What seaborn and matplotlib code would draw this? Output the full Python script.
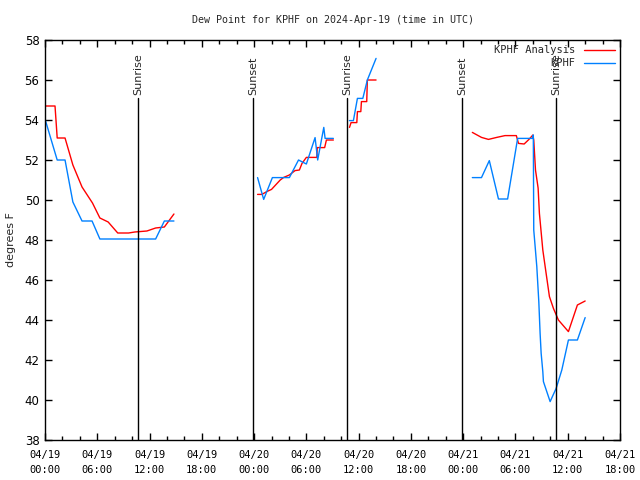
import matplotlib
matplotlib.use('Agg')
import matplotlib.pyplot as plt
import matplotlib.dates as mdates
from matplotlib.lines import Line2D
import seaborn as sns
import pandas as pd

# hours after 2024-04-19 00:00 UTC, one list per unbroken stretch
ana_hours = [
    [0, 1.15, 1.4, 2.3, 3.2, 4.25, 5.45, 6.3, 7.25, 8.35, 9.6, 10.3, 11.7, 12.7, 13.7, 14.8],
    [24.4, 24.9, 25.45, 26.0, 27.0, 27.4, 28.05, 28.7, 29.2, 29.5, 30.0, 31.2, 31.25, 32.1, 32.3, 33.1],
    [34.95, 35.13, 35.79, 35.86, 36.25, 36.32, 36.93, 37.0, 38.0],
    [49.05, 50.1, 50.9, 51.85, 52.8, 54.1, 54.35, 55.0, 55.55, 56.0, 56.1, 56.3, 56.6, 56.75,
     57.14, 57.52, 57.9, 58.36, 58.93, 60.08, 61.11, 62.0],
]
ana_dewp = [
    [54.7, 54.7, 53.1, 53.1, 51.75, 50.65, 49.85, 49.1, 48.9, 48.35, 48.35, 48.4, 48.45, 48.6, 48.65, 49.3],
    [50.28, 50.28, 50.42, 50.53, 51.0, 51.13, 51.25, 51.47, 51.5, 51.83, 52.13, 52.13, 52.62, 52.62, 53.0, 53.0],
    [53.63, 53.87, 53.87, 54.42, 54.42, 54.92, 54.92, 56.0, 56.0],
    [53.38, 53.13, 53.03, 53.13, 53.22, 53.22, 52.83, 52.8, 53.03, 53.25, 53.0, 51.5, 50.6, 49.33,
     47.5, 46.33, 45.17, 44.58, 44.0, 43.42, 44.75, 44.95],
]
obs_hours = [
    [0, 1.4, 2.3, 3.2, 4.25, 5.4, 6.3, 12.7, 13.7, 14.8],
    [24.4, 25.1, 26.1, 28.05, 29.1, 30.0, 31.0, 31.3, 32.0, 32.15, 33.1],
    [34.94, 35.4, 35.86, 36.48, 37.0, 38.0],
    [49.05, 50.1, 51.0, 52.05, 53.1, 54.25, 55.95, 56.05, 56.1, 56.26, 56.45, 56.68, 56.83, 56.95,
     57.14, 57.21, 57.98, 58.67, 59.32, 60.08, 61.11, 62.0],
]
obs_dewp = [
    [54.05, 52.0, 52.0, 49.9, 48.95, 48.95, 48.05, 48.05, 48.95, 48.95],
    [51.12, 50.03, 51.12, 51.12, 52.0, 51.8, 53.12, 52.0, 53.63, 53.08, 53.08],
    [53.97, 53.97, 55.08, 55.08, 56.0, 57.08],
    [51.12, 51.12, 51.97, 50.05, 50.05, 53.08, 53.08, 53.25, 48.5, 47.67, 46.67, 44.92, 43.33, 42.33,
     41.42, 40.92, 39.92, 40.58, 41.5, 43.0, 43.0, 44.12],
]
sun_hours = [10.68, 23.88, 34.67, 47.88, 58.67]
sun_labels = ['Sunrise', 'Sunset', 'Sunrise', 'Sunset', 'Sunrise']

start = pd.Timestamp('2024-04-19 00:00')
rows = []
for name, hrs, vals in [('KPHF Analysis', ana_hours, ana_dewp), ('KPHF', obs_hours, obs_dewp)]:
    for seg, (hh, vv) in enumerate(zip(hrs, vals)):
        for h, v in zip(hh, vv):
            rows.append({'series': name, 'seg': seg,
                         'time': start + pd.Timedelta(hours=h), 'dewp': v})
df = pd.DataFrame(rows)

sns.set_theme(style='ticks')
plt.rcParams['font.family'] = ['DejaVu Sans']

fig = plt.figure(figsize=(6.4, 4.8), dpi=100)
ax = fig.add_axes([45 / 640, 40 / 480, 575 / 640, 400 / 480])

colors = {'KPHF Analysis': '#ff0000', 'KPHF': '#0080ff'}
sns.lineplot(data=df, x='time', y='dewp', hue='series', units='seg', estimator=None,
             palette=colors, linewidth=1, legend=False, ax=ax)

for h, lab in zip(sun_hours, sun_labels):
    t = start + pd.Timedelta(hours=h)
    ax.plot([t, t], [38, 55.1], color='black', linewidth=1)
    ax.text(t, 55.25, lab, rotation=90, ha='center', va='bottom', fontsize=8)

ax.set_xlim(start, start + pd.Timedelta(hours=66))
ax.set_ylim(38, 58)
ax.set_yticks(range(38, 59, 2))
ax.xaxis.set_major_locator(mdates.HourLocator(byhour=[0, 6, 12, 18]))
ax.xaxis.set_minor_locator(mdates.HourLocator(byhour=range(0, 24, 2)))
ax.xaxis.set_major_formatter(mdates.DateFormatter('%m/%d\n%H:%M'))
ax.tick_params(axis='both', which='both', direction='in', top=True, right=True, colors='black')
ax.tick_params(which='major', length=5, width=1)
ax.tick_params(which='minor', length=3, width=1)
ax.tick_params(axis='y', labelsize=8.5, pad=4)
ax.tick_params(axis='x', pad=7)
for lab in ax.get_xticklabels():
    lab.set_family('DejaVu Sans Mono')
    lab.set_fontsize(7.5)
    lab.set_linespacing(1.6)
for s in ax.spines.values():
    s.set_color('black')
    s.set_linewidth(1)

ax.set_xlabel('')
ax.set_ylabel('degrees F', fontsize=8)
ax.yaxis.set_label_coords(-0.05, 0.5)
ax.set_title('Dew Point for KPHF on 2024-Apr-19 (time in UTC)', pad=12,
             fontsize=7.2, family='DejaVu Sans Mono')

handles = [Line2D([], [], color=colors[k], linewidth=1) for k in colors]
leg = ax.legend(handles, list(colors), loc='upper right', frameon=False, markerfirst=False,
                handlelength=3.0, labelspacing=0.3, borderaxespad=0.1,
                prop={'family': 'DejaVu Sans Mono', 'size': 7.5})
leg._legend_handle_box.get_children()[0].align = 'right'

fig.savefig('out.png', dpi=100)
